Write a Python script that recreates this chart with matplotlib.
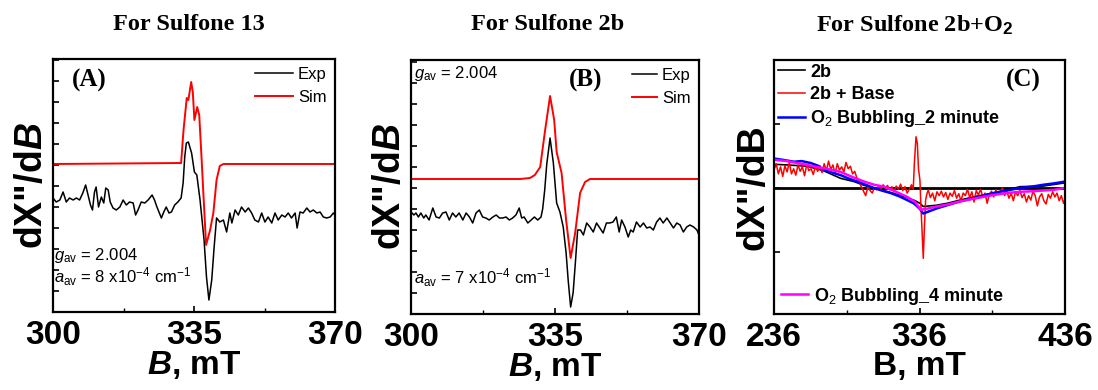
import numpy as np
import matplotlib
matplotlib.use("Agg")
import matplotlib.pyplot as plt
from matplotlib.ticker import MultipleLocator, FixedLocator

plt.rcParams['font.family'] = ['Liberation Sans', 'DejaVu Sans']
plt.rcParams['mathtext.fontset'] = 'custom'
plt.rcParams['mathtext.rm'] = 'Liberation Sans'
plt.rcParams['mathtext.it'] = 'Liberation Sans:italic'
plt.rcParams['mathtext.bf'] = 'Liberation Sans:bold'
plt.rcParams['mathtext.bfit'] = 'Liberation Sans:italic:bold'

# ---- panel A: sulfone 13 (field in mT, intensity in arb. units)
a_exp_B = [300.0, 300.8, 301.7, 302.5, 302.9, 303.3, 304.1, 305.0, 305.8, 306.6, 307.4, 308.1,
           308.7, 309.3, 309.8, 310.3, 310.7, 311.3, 312.0, 312.6, 313.1, 313.7, 314.2, 314.9,
           315.7, 316.6, 317.4, 318.2, 319.0, 319.9, 320.5, 321.1, 321.9, 322.8, 323.6, 324.6,
           325.2, 325.8, 326.3, 326.9, 327.5, 328.1, 328.8, 329.4, 330.2, 331.0, 331.8, 332.3,
           332.7, 333.1, 333.6, 334.4, 335.1, 335.7, 336.5, 337.5, 338.1, 338.7, 339.4, 340.0,
           340.6, 341.4, 342.3, 343.1, 343.9, 344.4, 345.2, 346.0, 346.8, 347.7, 348.5, 349.3,
           350.1, 351.0, 351.8, 352.6, 353.4, 354.3, 355.1, 355.9, 356.8, 357.6, 358.4, 359.2,
           360.1, 360.6, 361.3, 362.1, 363.0, 363.8, 364.6, 365.5, 366.3, 367.1, 367.9, 368.8,
           369.6, 370.0]
a_exp_I = [114, 110, 112, 120, 115, 110, 114, 112, 114, 112, 119, 127,
           117, 107, 102, 120, 125, 105, 115, 109, 124, 122, 110, 104,
           102, 105, 112, 107, 110, 109, 97, 102, 110, 109, 112, 117,
           112, 105, 100, 94, 100, 105, 99, 100, 107, 110, 114, 129,
           155, 169, 170, 159, 140, 137, 112, 72, 35, 12, 32, 65,
           94, 90, 92, 80, 99, 89, 102, 97, 105, 100, 104, 99,
           92, 90, 99, 90, 95, 89, 99, 92, 97, 95, 99, 94,
           99, 84, 100, 99, 104, 100, 102, 99, 100, 95, 94, 95,
           99, 97]
a_sim_B = [300.0, 331.8, 332.4, 333.2, 333.6, 334.3, 334.7, 335.1, 335.8, 336.3, 336.9,
           337.5, 338.0, 339.0, 339.8, 340.6, 341.4, 342.3, 370.0]
a_sim_I = [148, 149, 182, 214, 212, 230, 220, 192, 205, 197, 152,
           105, 67, 82, 99, 132, 146, 148, 148]

# ---- panel B: sulfone 2b
b_exp_B = [300.0, 300.7, 301.2, 301.8, 302.4, 303.1, 303.6, 304.4, 305.3, 306.1, 306.9, 307.7,
           308.5, 309.3, 310.1, 310.9, 311.7, 312.6, 313.4, 314.2, 315.0, 315.8, 316.6, 317.4,
           318.2, 319.0, 319.9, 320.7, 321.5, 322.3, 323.1, 323.9, 324.7, 325.5, 326.3, 326.9,
           327.5, 328.4, 329.2, 330.0, 330.8, 331.6, 332.0, 332.5, 333.0, 333.8, 334.6, 335.4,
           336.2, 337.0, 337.7, 338.2, 338.8, 339.4, 340.0, 340.5, 341.2, 341.9, 342.7, 343.5,
           344.3, 345.1, 345.9, 346.7, 347.5, 348.3, 349.1, 349.9, 350.6, 351.2, 352.0, 352.8,
           353.4, 354.0, 354.8, 355.7, 356.5, 357.3, 358.1, 358.9, 359.7, 360.5, 361.3, 362.2,
           363.0, 363.8, 364.6, 365.4, 366.2, 367.0, 367.8, 368.7, 369.5, 370.0]
b_exp_I = [102, 99, 101, 97, 101, 96, 99, 94, 106, 97, 96, 101,
           102, 94, 101, 97, 101, 94, 101, 97, 91, 101, 104, 97,
           96, 94, 97, 99, 96, 96, 97, 94, 96, 99, 106, 96,
           97, 91, 94, 97, 94, 97, 105, 124, 150, 176, 151, 111,
           102, 87, 61, 34, 7, 21, 54, 84, 84, 79, 91, 87,
           82, 91, 86, 81, 91, 91, 92, 97, 82, 94, 87, 77,
           84, 82, 92, 87, 91, 86, 87, 84, 92, 96, 91, 96,
           91, 86, 91, 89, 82, 87, 89, 87, 84, 79]
b_sim_B = [300.0, 326.5, 328.9, 330.1, 331.4, 332.6, 333.8, 334.8, 335.4, 336.6, 337.7,
           338.8, 339.9, 341.1, 342.3, 343.5, 370.0]
b_sim_I = [135, 135, 136, 139, 147, 184, 218, 194, 162, 141, 94,
           56, 81, 121, 132, 135, 135]

# ---- panel C: sulfone 2b + O2
c_2b_B = [236, 245, 258.7, 270, 281.8, 291, 298, 304.7, 316, 327.6, 333, 336.3, 338.6,
          347.8, 355, 363.8, 375, 386.7, 396, 405.1, 421.1, 436]
c_2b_I = [0.37, 0.36, 0.34, 0.27, 0.15, 0.10, 0.04, 0.0, -0.07, -0.15, -0.20, -0.24, -0.29,
          -0.27, -0.24, -0.19, -0.13, -0.08, -0.03, 0.02, 0.03, 0.08]
c_base_B = [236, 237.5, 239, 240.5, 242, 243.5, 245, 246.5, 248, 249.5, 251, 252.5, 254, 255.5,
            257, 258.5, 260, 261.5, 263, 264.5, 266, 267.5, 269, 270.5, 272, 273.5, 275, 276.5,
            278, 279.5, 281, 282.5, 284, 285.5, 287, 288.5, 290, 291.5, 293, 294.5, 296, 297.5,
            299, 300.5, 302, 303.5, 305, 306.5, 308, 309.5, 311, 312.5, 314, 315.5, 317, 318.5,
            320, 321.5, 323, 324.5, 326, 327.5, 329, 330.5, 331.7, 332.5, 333.6, 334.5, 335.3,
            336.3, 336.8, 337.8, 338.6, 339.4, 340.2, 341, 342, 343.5, 345, 346.5, 348, 349.5,
            351, 352.5, 354, 355.5, 357, 358.5, 360, 361.5, 363, 364.5, 366, 367.5, 369, 370.5,
            372, 373.5, 375, 376.5, 378, 379.5, 381, 382.5, 384, 385.5, 387, 388.5, 390, 391.5,
            393, 394.5, 396, 397.5, 399, 400.5, 402, 403.5, 405, 406.5, 408, 409.5, 411, 412.5,
            414, 415.5, 417, 418.5, 420, 421.5, 423, 424.5, 426, 427.5, 429, 430.5, 432, 433.5,
            435, 436]
c_base_I = [0.28, 0.38, 0.22, 0.33, 0.18, 0.35, 0.25, 0.40, 0.22, 0.30, 0.20, 0.36, 0.26, 0.33,
            0.19, 0.37, 0.27, 0.30, 0.21, 0.34, 0.26, 0.35, 0.24, 0.38, 0.27, 0.42, 0.29, 0.36,
            0.22, 0.38, 0.28, 0.33, 0.25, 0.40, 0.30, 0.34, 0.22, 0.26, 0.15, 0.10, 0.02, -0.05,
            -0.12, 0.02, -0.04, -0.08, 0.0, -0.03, 0.03, -0.02, 0.05, 0.0, 0.04, -0.03, 0.02, -0.06,
            0.03, -0.02, 0.06, -0.04, 0.02, -0.08, -0.02, 0.05, -0.02, 0.40, 0.80, 0.70, 0.30,
            0.12, -0.19, -0.70, -1.10, -0.60, -0.19, -0.10, -0.03, -0.15, -0.08, -0.20, -0.06, -0.12,
            -0.05, -0.14, -0.07, -0.18, -0.08, -0.13, -0.04, -0.16, -0.09, -0.20, -0.08, -0.12, -0.02, -0.15,
            -0.06, -0.22, -0.04, -0.11, -0.02, -0.14, -0.08, -0.24, -0.10, -0.05, -0.14, -0.03, -0.10, -0.06,
            0.0, -0.12, -0.05, -0.16, -0.08, -0.20, -0.06, -0.12, -0.04, -0.15, -0.09, -0.22, -0.12, -0.19,
            -0.05, -0.12, -0.28, -0.14, -0.09, -0.20, -0.25, -0.10, -0.16, -0.06, -0.14, -0.08, -0.20, -0.12,
            -0.24, -0.18]
c_2min_B = [236, 242, 249.7, 255, 261.2, 266, 270.4, 276, 281.8, 287, 293.3, 299, 304.7, 310,
            316.2, 322, 327.6, 332, 334.5, 336.3, 338.6, 342, 347.8, 355, 363.8, 375, 386.7,
            396, 405.1, 413, 421.1, 428, 436]
c_2min_I = [0.46, 0.44, 0.41, 0.42, 0.39, 0.35, 0.28, 0.24, 0.20, 0.15, 0.10, 0.05, 0.0, -0.04,
            -0.08, -0.13, -0.19, -0.24, -0.29, -0.33, -0.40, -0.37, -0.32, -0.27, -0.21, -0.15, -0.08,
            -0.04, 0.0, 0.02, 0.05, 0.07, 0.10]
c_4min_B = [236, 245, 258.7, 265, 272, 281.8, 290, 297.9, 305, 311.6, 318, 327.6, 333, 336.8,
            340, 347.8, 355, 363.8, 375, 386.7, 396, 405.1, 415, 421.1, 428, 436]
c_4min_I = [0.44, 0.42, 0.36, 0.33, 0.30, 0.25, 0.17, 0.10, 0.05, 0.02, -0.04, -0.14, -0.22, -0.34,
            -0.33, -0.29, -0.26, -0.21, -0.16, -0.11, -0.08, -0.06, -0.05, -0.04, -0.03, 0.0]

titles = ['For Sulfone 13', 'For Sulfone 2b', r'For Sulfone 2b+O$_\mathbf{2}$']

fig = plt.figure(figsize=(10.98, 3.9), dpi=100)
axA = fig.add_axes([53/1098, 1-312/390, 282/1098, 253/390])
axB = fig.add_axes([411/1098, 1-314/390, 288/1098, 254/390])
axC = fig.add_axes([774/1098, 1-314/390, 291/1098, 254/390])

for ax in (axA, axB, axC):
    for s in ax.spines.values():
        s.set_linewidth(1.6)
    ax.tick_params(direction='in', which='both', top=False, right=False, labelleft=False,
                   labelsize=24, pad=6)
    ax.tick_params(which='major', length=4, width=1.2)
    ax.tick_params(which='minor', length=3, width=1.0)

# panel A
axA.plot(a_exp_B, a_exp_I, color='black', lw=1.1, label='Exp')
axA.plot(a_sim_B, a_sim_I, color='red', lw=1.4, label='Sim')
axA.set_xlim(300, 370)
axA.set_ylim(0, 253)
axA.set_xticks([300, 335, 370])
axA.xaxis.set_minor_locator(FixedLocator([317.5, 352.5]))
axA.yaxis.set_major_locator(MultipleLocator(21))
axA.legend(loc='upper right', bbox_to_anchor=(1.0, 1.0), frameon=False, fontsize=12,
           handlelength=2.3, handletextpad=0.3, borderaxespad=0.1, labelspacing=0.45)
axA.text(0.128, 0.915, '(A)', transform=axA.transAxes, ha='center', va='center',
         family='Liberation Serif', fontweight='bold', fontsize=18)
axA.text(0.005, 0.225, r'$g_{\rm av}$ = 2.004', transform=axA.transAxes, va='center', fontsize=12)
axA.text(0.005, 0.138, r'$a_{\rm av}$ = 8 x10$^{-4}$ cm$^{-1}$', transform=axA.transAxes,
         va='center', fontsize=12)
axA.set_ylabel(r'dX"/d$\mathbfit{B}$', fontsize=27, fontweight='bold', labelpad=2)
axA.set_xlabel(r'$\mathbfit{B}$, mT', fontsize=24, fontweight='bold', labelpad=-2)

# panel B
axB.plot(b_exp_B, b_exp_I, color='black', lw=1.1, label='Exp')
axB.plot(b_sim_B, b_sim_I, color='red', lw=1.4, label='Sim')
axB.set_xlim(300, 370)
axB.set_ylim(0, 254)
axB.set_xticks([300, 335, 370])
axB.xaxis.set_minor_locator(FixedLocator([317.5, 352.5]))
axB.yaxis.set_major_locator(MultipleLocator(21))
axB.legend(loc='upper right', bbox_to_anchor=(1.0, 1.0), frameon=False, fontsize=12,
           handlelength=1.5, handletextpad=0.3, borderaxespad=0.1, labelspacing=0.45)
axB.text(0.608, 0.92, '(B)', transform=axB.transAxes, ha='center', va='center',
         family='Liberation Serif', fontweight='bold', fontsize=18)
axB.text(0.01, 0.945, r'$g_{\rm av}$ = 2.004', transform=axB.transAxes, va='center', fontsize=12)
axB.text(0.01, 0.142, r'$a_{\rm av}$ = 7 x10$^{-4}$ cm$^{-1}$', transform=axB.transAxes,
         va='center', fontsize=12)
axB.set_ylabel(r'dX"/d$\mathbfit{B}$', fontsize=27, fontweight='bold', labelpad=2)
axB.set_xlabel(r'$\mathbfit{B}$, mT', fontsize=24, fontweight='bold', labelpad=-2)

# panel C
axC.axhline(0, color='black', lw=2.0)
l1, = axC.plot(c_2b_B, c_2b_I, color='black', lw=1.2, label='2b')
l2, = axC.plot(c_base_B, c_base_I, color='red', lw=1.1, label='2b + Base')
l3, = axC.plot(c_2min_B, c_2min_I, color='blue', lw=1.8, label=r'O$_2$ Bubbling_2 minute')
l4, = axC.plot(c_4min_B, c_4min_I, color='magenta', lw=1.8, label=r'O$_2$ Bubbling_4 minute')
axC.set_xlim(236, 436)
axC.set_ylim(-1.97, 2.0)
axC.set_xticks([236, 336, 436])
axC.xaxis.set_minor_locator(FixedLocator([286, 386]))
axC.set_yticks([-1, 0, 1])
leg1 = axC.legend(handles=[l1, l2, l3], loc='upper left', bbox_to_anchor=(0.0, 1.0),
                  frameon=False, prop=dict(size=13, weight='bold'), handlelength=1.5,
                  handletextpad=0.3, borderaxespad=0.1, borderpad=0.1, labelspacing=0.3)
axC.add_artist(leg1)
axC.legend(handles=[l4], loc='lower left', bbox_to_anchor=(0.0, 0.0), frameon=False,
           prop=dict(size=13, weight='bold'), handlelength=1.5, handletextpad=0.3,
           borderaxespad=0.0)
axC.text(0.856, 0.92, '(C)', transform=axC.transAxes, ha='center', va='center',
         family='Liberation Serif', fontweight='bold', fontsize=18)
axC.set_ylabel('dX"/dB', fontsize=27, fontweight='bold', labelpad=2)
axC.set_xlabel('B, mT', fontsize=24, fontweight='bold', labelpad=-2)

for ax in (axA, axB, axC):
    for lab in ax.get_xticklabels():
        lab.set_fontweight('bold')

for x, t in zip([189, 548, 915], titles):
    fig.text(x/1098, 1-25/390, t, ha='center', va='center', family='Liberation Serif',
             fontweight='bold', fontsize=17.5)

fig.savefig('out.png', dpi=100)
